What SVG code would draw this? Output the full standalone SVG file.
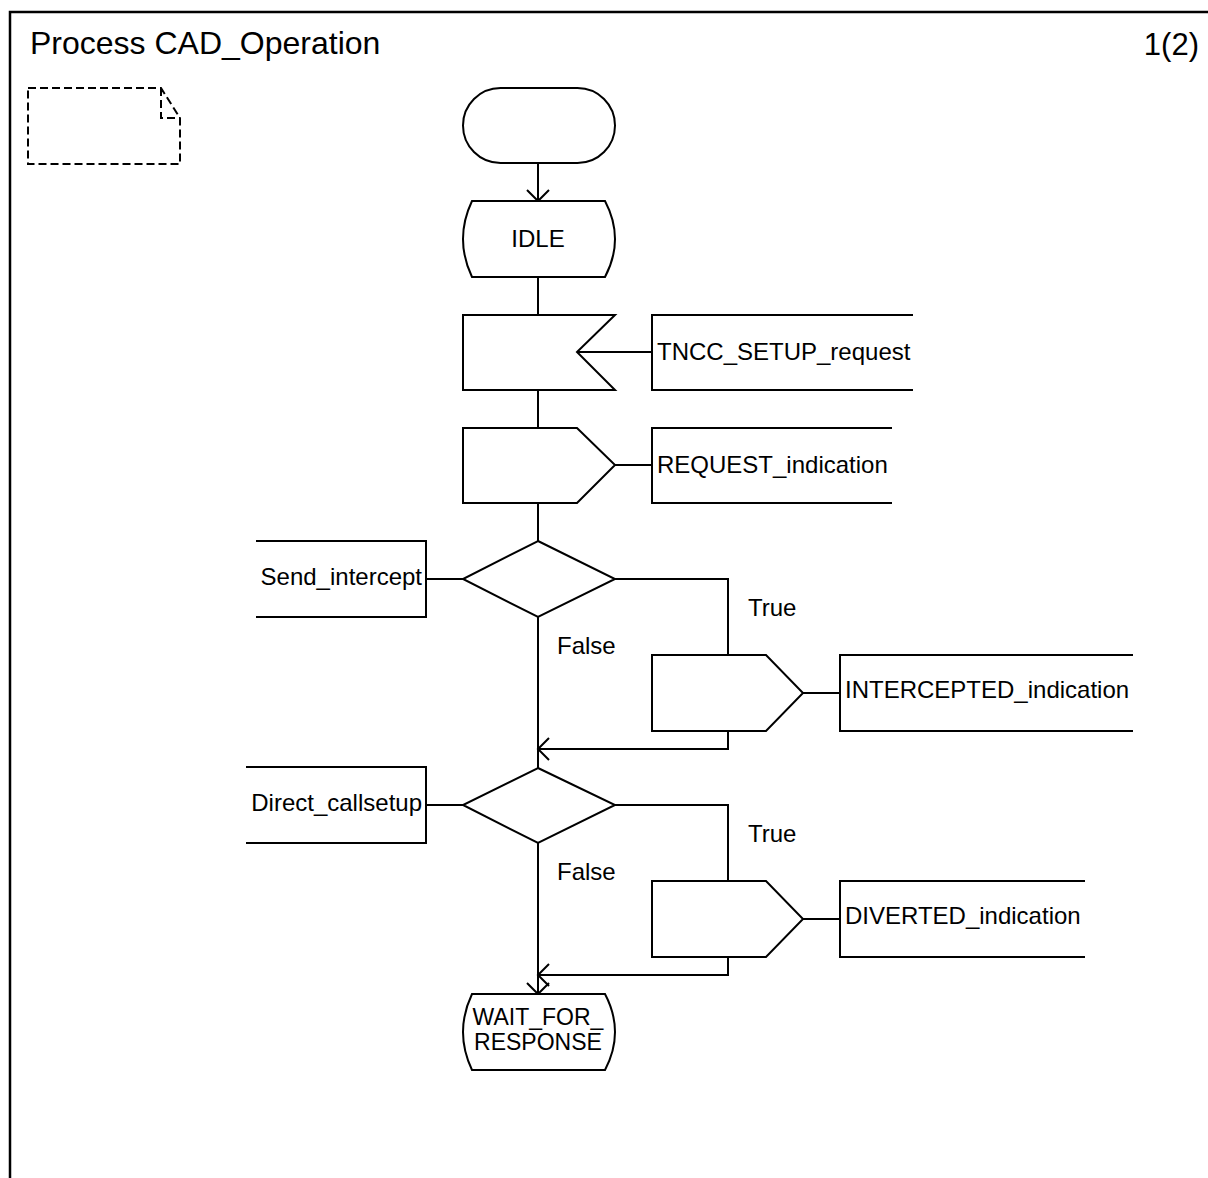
<svg xmlns="http://www.w3.org/2000/svg" width="1208" height="1178" viewBox="0 0 1208 1178">
<style>
.s{fill:none;stroke:#000;stroke-width:2}
.f{fill:#fff;stroke:#000;stroke-width:2}
.d{fill:none;stroke:#000;stroke-width:2;stroke-dasharray:8,4}
text{font-family:"Liberation Sans",Arial,sans-serif;font-size:24px;fill:#000}
.t{font-size:32px}
.n{font-size:31px}
.c{text-anchor:middle}
.w{font-size:23px}
</style>
<defs>
<marker id="ah" markerUnits="userSpaceOnUse" viewBox="-13 -13 26 26" refX="0" refY="0" markerWidth="26" markerHeight="26" orient="auto">
<path d="M-11,-11 L0,0 L-11,11" fill="none" stroke="#000" stroke-width="2"/>
</marker>
</defs>
<rect width="1208" height="1178" fill="#fff"/>
<path d="M10,1178 V12 H1208" fill="none" stroke="#000" stroke-width="2.5"/>
<text class="t" x="30" y="54">Process CAD_Operation</text>
<text class="n" x="1199" y="55" text-anchor="end">1(2)</text>
<g id="note"><path class="d" d="M28,88 H161 L180,118 V164 H28 Z M161,88 V118 H180"/></g>
<g id="connectors">
<line class="s" x1="538" y1="163" x2="538" y2="201" marker-end="url(#ah)"/>
<line class="s" x1="538" y1="277" x2="538" y2="315"/>
<line class="s" x1="577" y1="352" x2="652" y2="352"/>
<line class="s" x1="538" y1="390" x2="538" y2="428"/>
<line class="s" x1="615" y1="465" x2="652" y2="465"/>
<line class="s" x1="538" y1="503" x2="538" y2="541"/>
<line class="s" x1="426" y1="579" x2="463" y2="579"/>
<path class="s" d="M615,579 H728 V655"/>
<line class="s" x1="803" y1="693" x2="840" y2="693"/>
<path class="s" d="M728,731 V749 H538" marker-end="url(#ah)"/>
<line class="s" x1="538" y1="617" x2="538" y2="768"/>
<line class="s" x1="426" y1="805" x2="463" y2="805"/>
<path class="s" d="M615,805 H728 V881"/>
<line class="s" x1="803" y1="919" x2="840" y2="919"/>
<path class="s" d="M728,957 V975 H538" marker-end="url(#ah)"/>
<line class="s" x1="538" y1="843" x2="538" y2="994" marker-end="url(#ah)"/>
</g>
<g id="start"><rect class="f" x="463" y="88" width="152" height="75" rx="37.5"/></g>
<g id="idle"><path class="f" d="M472,201 H605 Q625,239 605,277 H472 Q454,239 472,201 Z"/><text class="c" x="538" y="247">IDLE</text></g>
<g id="in_tncc"><path class="f" d="M463,315 H615 L577,352 L615,390 H463 Z"/></g>
<g id="lbl_tncc"><path class="s" d="M913,315 H652 V390 H913"/><text x="657" y="360">TNCC_SETUP_request</text></g>
<g id="out_request"><path class="f" d="M463,428 H577 L615,465 L577,503 H463 Z"/></g>
<g id="lbl_request"><path class="s" d="M892,428 H652 V503 H892"/><text x="657" y="473">REQUEST_indication</text></g>
<g id="dec1"><path class="f" d="M538,541 L615,579 L538,617 L463,579 Z"/></g>
<g id="lbl_send"><path class="s" d="M256,541 H426 V617 H256"/><text x="422" y="585" text-anchor="end">Send_intercept</text></g>
<text x="748" y="616">True</text>
<text x="557" y="654">False</text>
<g id="out_intercepted"><path class="f" d="M652,655 H766 L803,693 L766,731 H652 Z"/></g>
<g id="lbl_intercepted"><path class="s" d="M1133,655 H840 V731 H1133"/><text x="845" y="698">INTERCEPTED_indication</text></g>
<g id="dec2"><path class="f" d="M538,768 L615,805 L538,843 L463,805 Z"/></g>
<g id="lbl_direct"><path class="s" d="M246,767 H426 V843 H246"/><text x="422" y="811" text-anchor="end">Direct_callsetup</text></g>
<text x="748" y="842">True</text>
<text x="557" y="880">False</text>
<g id="out_diverted"><path class="f" d="M652,881 H766 L803,919 L766,957 H652 Z"/></g>
<g id="lbl_diverted"><path class="s" d="M1085,881 H840 V957 H1085"/><text x="845" y="924">DIVERTED_indication</text></g>
<g id="wait"><path class="f" d="M472,994 H605 Q625,1032 605,1070 H472 Q454,1032 472,994 Z"/><text class="c w" x="538" y="1025">WAIT_FOR_</text><text class="c w" x="538" y="1050">RESPONSE</text></g>
</svg>
